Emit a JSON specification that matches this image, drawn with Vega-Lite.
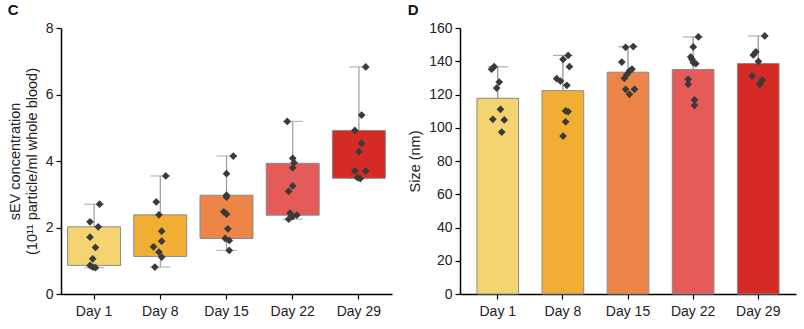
{
  "$schema": "https://vega.github.io/schema/vega-lite/v6.json",
  "background": "white",
  "padding": {"left": 7, "top": 3, "right": 5, "bottom": 5},
  "spacing": 15,
  "config": {
    "font": "Liberation Sans",
    "view": {"stroke": null},
    "axis": {
      "domainColor": "#000", "domainWidth": 1.5, "tickColor": "#000", "tickWidth": 1.2, "tickSize": 5,
      "labelFont": "Liberation Sans", "labelFontSize": 14, "labelColor": "#222", "labelPadding": 3,
      "titleFont": "Liberation Sans", "titleFontSize": 14.5, "titleFontWeight": "normal", "titleColor": "#222",
      "grid": false
    },
    "axisX": {"labelPadding": 5},
    "title": {"font": "Liberation Sans", "fontSize": 15, "fontWeight": "bold", "anchor": "start", "frame": "bounds", "color": "#111", "offset": 3}
  },
  "datasets": {
    "boxes": [
      {"day": "Day 1", "min": 0.79, "q1": 0.86, "q3": 2.02, "max": 2.70},
      {"day": "Day 8", "min": 0.81, "q1": 1.13, "q3": 2.38, "max": 3.55},
      {"day": "Day 15", "min": 1.31, "q1": 1.67, "q3": 2.97, "max": 4.15},
      {"day": "Day 22", "min": 2.25, "q1": 2.37, "q3": 3.93, "max": 5.19},
      {"day": "Day 29", "min": 3.47, "q1": 3.48, "q3": 4.92, "max": 6.83}
    ],
    "conc": [
      {"day": "Day 1", "id": 9, "conc": 2.70},
      {"day": "Day 1", "id": 2, "conc": 2.17},
      {"day": "Day 1", "id": 8, "conc": 2.02},
      {"day": "Day 1", "id": 2, "conc": 1.71},
      {"day": "Day 1", "id": 6, "conc": 1.40},
      {"day": "Day 1", "id": 4, "conc": 1.06},
      {"day": "Day 1", "id": 2, "conc": 0.86},
      {"day": "Day 1", "id": 4, "conc": 0.81},
      {"day": "Day 1", "id": 6, "conc": 0.79},
      {"day": "Day 8", "id": 9, "conc": 3.55},
      {"day": "Day 8", "id": 2, "conc": 2.77},
      {"day": "Day 8", "id": 4, "conc": 2.38},
      {"day": "Day 8", "id": 6, "conc": 1.89},
      {"day": "Day 8", "id": 6, "conc": 1.59},
      {"day": "Day 8", "id": 0, "conc": 1.42},
      {"day": "Day 8", "id": 4, "conc": 1.26},
      {"day": "Day 8", "id": 6, "conc": 1.11},
      {"day": "Day 8", "id": 1, "conc": 0.81},
      {"day": "Day 15", "id": 10, "conc": 4.15},
      {"day": "Day 15", "id": 5, "conc": 3.62},
      {"day": "Day 15", "id": 5, "conc": 2.97},
      {"day": "Day 15", "id": 5, "conc": 2.91},
      {"day": "Day 15", "id": 3, "conc": 2.47},
      {"day": "Day 15", "id": 5, "conc": 2.40},
      {"day": "Day 15", "id": 6, "conc": 1.96},
      {"day": "Day 15", "id": 4, "conc": 1.67},
      {"day": "Day 15", "id": 7, "conc": 1.61},
      {"day": "Day 15", "id": 7, "conc": 1.31},
      {"day": "Day 22", "id": 1, "conc": 5.19},
      {"day": "Day 22", "id": 5, "conc": 4.08},
      {"day": "Day 22", "id": 6, "conc": 3.95},
      {"day": "Day 22", "id": 5, "conc": 3.80},
      {"day": "Day 22", "id": 5, "conc": 3.25},
      {"day": "Day 22", "id": 2, "conc": 3.09},
      {"day": "Day 22", "id": 3, "conc": 2.43},
      {"day": "Day 22", "id": 8, "conc": 2.37},
      {"day": "Day 22", "id": 5, "conc": 2.33},
      {"day": "Day 22", "id": 2, "conc": 2.25},
      {"day": "Day 29", "id": 10, "conc": 6.83},
      {"day": "Day 29", "id": 7, "conc": 5.38},
      {"day": "Day 29", "id": 2, "conc": 4.92},
      {"day": "Day 29", "id": 7, "conc": 4.53},
      {"day": "Day 29", "id": 5, "conc": 4.28},
      {"day": "Day 29", "id": 2, "conc": 3.70},
      {"day": "Day 29", "id": 10, "conc": 3.70},
      {"day": "Day 29", "id": 4, "conc": 3.50},
      {"day": "Day 29", "id": 6, "conc": 3.47}
    ],
    "size": [
      {"day": "Day 1", "id": 2, "size": 136.7},
      {"day": "Day 1", "id": 0, "size": 135.2},
      {"day": "Day 1", "id": 6, "size": 127.5},
      {"day": "Day 1", "id": 4, "size": 123.9},
      {"day": "Day 1", "id": 7, "size": 111.1},
      {"day": "Day 1", "id": 1, "size": 105.1},
      {"day": "Day 1", "id": 10, "size": 104.7},
      {"day": "Day 1", "id": 8, "size": 97.4},
      {"day": "Day 8", "id": 9, "size": 143.5},
      {"day": "Day 8", "id": 5, "size": 141.2},
      {"day": "Day 8", "id": 10, "size": 136.7},
      {"day": "Day 8", "id": 0, "size": 129.5},
      {"day": "Day 8", "id": 3, "size": 128.1},
      {"day": "Day 8", "id": 8, "size": 125.5},
      {"day": "Day 8", "id": 7, "size": 110.1},
      {"day": "Day 8", "id": 9, "size": 109.7},
      {"day": "Day 8", "id": 7, "size": 103.6},
      {"day": "Day 8", "id": 5, "size": 95.0},
      {"day": "Day 15", "id": 3, "size": 148.4},
      {"day": "Day 15", "id": 9, "size": 148.8},
      {"day": "Day 15", "id": 0, "size": 139.5},
      {"day": "Day 15", "id": 8, "size": 135.2},
      {"day": "Day 15", "id": 6, "size": 134.1},
      {"day": "Day 15", "id": 4, "size": 132.1},
      {"day": "Day 15", "id": 2, "size": 129.7},
      {"day": "Day 15", "id": 3, "size": 123.1},
      {"day": "Day 15", "id": 10, "size": 123.1},
      {"day": "Day 15", "id": 6, "size": 120.1},
      {"day": "Day 22", "id": 9, "size": 154.6},
      {"day": "Day 22", "id": 5, "size": 148.6},
      {"day": "Day 22", "id": 3, "size": 142.6},
      {"day": "Day 22", "id": 4, "size": 141.2},
      {"day": "Day 22", "id": 5, "size": 139.2},
      {"day": "Day 22", "id": 7, "size": 138.5},
      {"day": "Day 22", "id": 1, "size": 129.1},
      {"day": "Day 22", "id": 1, "size": 126.1},
      {"day": "Day 22", "id": 6, "size": 116.7},
      {"day": "Day 22", "id": 6, "size": 113.5},
      {"day": "Day 29", "id": 10, "size": 155.2},
      {"day": "Day 29", "id": 3, "size": 145.6},
      {"day": "Day 29", "id": 1, "size": 143.8},
      {"day": "Day 29", "id": 5, "size": 139.9},
      {"day": "Day 29", "id": 0, "size": 131.1},
      {"day": "Day 29", "id": 8, "size": 128.7},
      {"day": "Day 29", "id": 6, "size": 126.1}
    ]
  },
  "hconcat": [
    {
      "title": {"text": "C"},
      "width": 331,
      "height": 266,
      "encoding": {
        "x": {"field": "day", "type": "nominal", "sort": ["Day 1", "Day 8", "Day 15", "Day 22", "Day 29"], "title": null,
              "scale": {"paddingInner": 0.2, "paddingOuter": 0.1}, "axis": {"labelAngle": 0}}
      },
      "resolve": {"scale": {"xOffset": "independent"}},
      "layer": [
        {
          "data": {"name": "boxes"},
          "mark": {"type": "rule", "color": "#9a9a9a", "strokeWidth": 1.2},
          "encoding": {
            "y": {"field": "min", "type": "quantitative", "scale": {"domain": [0, 8]},
                  "axis": {"values": [0, 2, 4, 6, 8], "titlePadding": 6},
                  "title": ["sEV concentration", "(10¹¹ particle/ml whole blood)"]},
            "y2": {"field": "max"}
          }
        },
        {
          "data": {"name": "boxes"},
          "mark": {"type": "tick", "color": "#9a9a9a", "thickness": 1.2, "size": 20},
          "encoding": {"y": {"field": "max", "type": "quantitative"}}
        },
        {
          "data": {"name": "boxes"},
          "mark": {"type": "tick", "color": "#9a9a9a", "thickness": 1.2, "size": 20},
          "encoding": {"y": {"field": "min", "type": "quantitative"}}
        },
        {
          "data": {"name": "boxes"},
          "mark": {"type": "bar", "stroke": "#8a8a8a", "strokeWidth": 1},
          "encoding": {
            "y": {"field": "q1", "type": "quantitative"},
            "y2": {"field": "q3"},
            "color": {"field": "day", "type": "nominal", "legend": null,
                      "scale": {"domain": ["Day 1", "Day 8", "Day 15", "Day 22", "Day 29"],
                                "range": ["#F4D471", "#F1AD34", "#EE8548", "#E55B59", "#D42B27"]}}
          }
        },
        {
          "data": {"name": "conc"},
          "mark": {"type": "point", "shape": "diamond", "filled": true, "color": "#3a3a3a", "size": 60, "opacity": 1},
          "encoding": {
            "y": {"field": "conc", "type": "quantitative"},
            "xOffset": {"field": "id", "type": "nominal", "scale": {"type": "point", "range": [19, 34], "domain": [0,1,2,3,4,5,6,7,8,9,10]}}
          }
        }
      ]
    },
    {
      "title": {"text": "D"},
      "width": 336,
      "height": 266,
      "data": {"name": "size"},
      "encoding": {
        "x": {"field": "day", "type": "nominal", "sort": ["Day 1", "Day 8", "Day 15", "Day 22", "Day 29"], "title": null,
              "scale": {"paddingInner": 0.36, "paddingOuter": 0.26}, "axis": {"labelAngle": 0}}
      },
      "resolve": {"scale": {"xOffset": "independent"}},
      "layer": [
        {
          "transform": [{"aggregate": [{"op": "mean", "field": "size", "as": "mean"}, {"op": "max", "field": "size", "as": "max"}], "groupby": ["day"]}],
          "mark": {"type": "rule", "color": "#8a8a8a", "strokeWidth": 1.2},
          "encoding": {
            "y": {"field": "mean", "type": "quantitative", "scale": {"domain": [0, 160]},
                  "axis": {"values": [0, 20, 40, 60, 80, 100, 120, 140, 160], "labelOverlap": false, "titlePadding": 6}, "title": "Size (nm)"},
            "y2": {"field": "max"}
          }
        },
        {
          "transform": [{"aggregate": [{"op": "max", "field": "size", "as": "max"}], "groupby": ["day"]}],
          "mark": {"type": "tick", "color": "#8a8a8a", "thickness": 1.2, "size": 20},
          "encoding": {"y": {"field": "max", "type": "quantitative",
                  "axis": {"values": [0, 20, 40, 60, 80, 100, 120, 140, 160], "labelOverlap": false, "titlePadding": 6}, "title": "Size (nm)"}}
        },
        {
          "mark": {"type": "bar", "stroke": "#8a8a8a", "strokeWidth": 1},
          "encoding": {
            "y": {"aggregate": "mean", "field": "size", "type": "quantitative",
                  "axis": {"values": [0, 20, 40, 60, 80, 100, 120, 140, 160], "labelOverlap": false, "titlePadding": 6}, "title": "Size (nm)"},
            "color": {"field": "day", "type": "nominal", "legend": null,
                      "scale": {"domain": ["Day 1", "Day 8", "Day 15", "Day 22", "Day 29"],
                                "range": ["#F4D471", "#F1AD34", "#EE8548", "#E55B59", "#D42B27"]}}
          }
        },
        {
          "mark": {"type": "point", "shape": "diamond", "filled": true, "color": "#3a3a3a", "size": 60, "opacity": 1},
          "encoding": {
            "y": {"field": "size", "type": "quantitative",
                  "axis": {"values": [0, 20, 40, 60, 80, 100, 120, 140, 160], "labelOverlap": false, "titlePadding": 6}, "title": "Size (nm)"},
            "xOffset": {"field": "id", "type": "nominal", "scale": {"type": "point", "range": [14, 28], "domain": [0,1,2,3,4,5,6,7,8,9,10]}}
          }
        }
      ]
    }
  ],
  "resolve": {"scale": {"color": "shared"}}
}
